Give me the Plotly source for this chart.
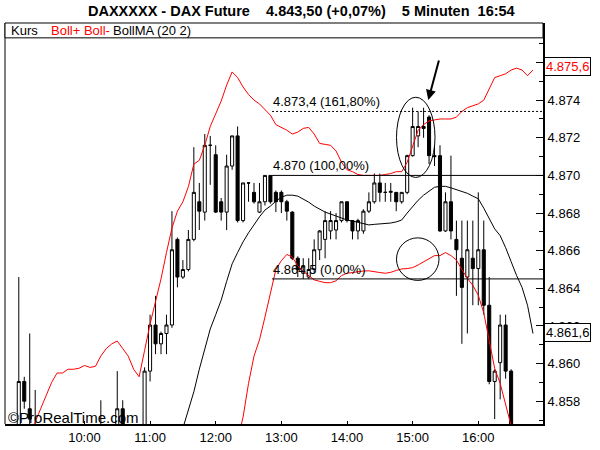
import plotly.graph_objects as go

# ---------------- data ----------------
bars = list(range(95))  # 5-minute bars, 9:00 .. 16:50

opens = [4856.4, 4859.05, 4857.6, 4856.5, 4855.8, 4855.2, 4855.6, 4855.0, 4854.6, 4855.2,
         4855.9, 4855.4, 4855.0, 4855.8, 4855.3, 4855.6, 4856.2, 4855.8, 4856.4, 4857.6,
         4856.3, 4855.6, 4856.0, 4855.5, 4859.6, 4862.05, 4861.05, 4861.6, 4862.05, 4866.6,
         4864.6, 4865.0, 4866.6, 4868.6, 4868.05, 4871.6, 4871.1, 4868.6, 4868.05, 4870.5,
         4872.1, 4867.6, 4869.6, 4869.1, 4868.05, 4868.6, 4870.0, 4869.1, 4869.1, 4868.6,
         4868.05, 4865.6, 4864.8, 4864.6, 4865.0, 4866.05, 4866.6, 4867.05, 4867.1, 4867.6,
         4868.6, 4867.6, 4867.05, 4867.05, 4868.1, 4868.6, 4869.6, 4869.1, 4869.1, 4869.1,
         4868.6, 4869.1, 4871.05, 4872.1, 4872.6, 4873.1, 4871.05, 4871.05, 4867.05, 4868.6,
         4866.6, 4865.6, 4864.6, 4865.6, 4865.05, 4866.05, 4863.1, 4859.05, 4860.05, 4862.05,
         4859.6, 4855.0, 4850.0, 4847.0, 4845.5]
highs = [4864.6, 4859.3, 4861.6, 4858.6, 4856.5, 4856.2, 4856.4, 4855.9, 4855.6, 4856.3,
         4856.4, 4856.0, 4856.2, 4856.5, 4856.0, 4858.05, 4856.7, 4856.6, 4859.6, 4858.05,
         4856.7, 4856.4, 4856.6, 4859.8, 4862.6, 4863.6, 4861.7, 4862.6, 4868.1, 4866.7,
         4865.5, 4867.1, 4871.5, 4869.6, 4872.2, 4872.1, 4871.6, 4868.8, 4871.1, 4872.1,
         4872.6, 4869.6, 4869.6, 4869.6, 4869.6, 4870.0, 4870.0, 4869.2, 4869.2, 4868.7,
         4868.1, 4865.7, 4865.6, 4865.6, 4866.6, 4867.1, 4868.1, 4868.1, 4868.0, 4868.6,
         4868.6, 4867.6, 4867.7, 4868.2, 4869.1, 4870.1, 4870.1, 4869.6, 4869.6, 4869.1,
         4869.1, 4871.1, 4873.6, 4873.4, 4873.6, 4873.2, 4871.6, 4871.6, 4869.1, 4871.05,
         4867.6, 4867.6, 4867.6, 4867.6, 4869.1, 4867.6, 4864.6, 4859.7, 4862.6, 4862.6,
         4859.7, 4855.5, 4851.5, 4849.0, 4847.0]
lows = [4856.0, 4857.6, 4856.4, 4855.2, 4854.6, 4854.2, 4854.8, 4854.0, 4853.8, 4854.8,
        4855.0, 4854.6, 4854.6, 4855.0, 4854.8, 4855.0, 4855.4, 4855.1, 4856.0, 4855.9,
        4855.2, 4854.9, 4855.0, 4855.3, 4859.05, 4860.5, 4860.5, 4860.5, 4861.9, 4864.05,
        4864.5, 4864.9, 4866.5, 4867.1, 4867.6, 4869.5, 4868.0, 4867.6, 4867.1, 4870.3,
        4867.5, 4867.5, 4868.6, 4868.5, 4868.0, 4868.4, 4868.5, 4868.05, 4868.0, 4867.6,
        4865.5, 4864.6, 4864.5, 4864.5, 4864.8, 4865.5, 4865.6, 4866.6, 4866.6, 4867.5,
        4867.5, 4866.6, 4866.6, 4866.9, 4868.0, 4868.5, 4868.6, 4868.6, 4868.6, 4868.1,
        4868.5, 4869.0, 4871.0, 4871.5, 4872.0, 4870.6, 4870.5, 4867.0, 4867.0, 4866.6,
        4863.6, 4861.05, 4861.6, 4863.1, 4863.1, 4862.6, 4858.9, 4857.05, 4858.1, 4859.2,
        4854.5, 4849.0, 4846.0, 4844.0, 4842.5]
closes = [4859.05, 4858.0, 4857.05, 4855.8, 4855.2, 4855.6, 4855.0, 4854.6, 4855.2, 4855.9,
          4855.4, 4855.0, 4855.8, 4855.3, 4855.6, 4856.2, 4855.8, 4856.4, 4857.6, 4856.3,
          4855.6, 4856.0, 4855.5, 4859.6, 4862.05, 4861.05, 4861.6, 4862.05, 4866.05, 4864.6,
          4865.0, 4866.6, 4869.1, 4868.1, 4871.6, 4871.6, 4868.05, 4868.05, 4870.5, 4872.1,
          4867.6, 4869.6, 4869.6, 4868.6, 4868.6, 4870.0, 4868.6, 4868.6, 4868.6, 4868.1,
          4865.6, 4865.0, 4865.2, 4865.0, 4866.05, 4867.05, 4867.6, 4867.6, 4867.6, 4868.6,
          4867.6, 4867.05, 4867.6, 4868.1, 4868.6, 4869.6, 4869.1, 4869.1, 4869.15, 4868.6,
          4869.1, 4871.05, 4872.6, 4872.6, 4872.5, 4871.05, 4871.0, 4867.05, 4868.6, 4867.05,
          4866.05, 4864.05, 4866.05, 4865.05, 4866.05, 4863.1, 4859.05, 4859.6, 4862.05, 4859.6,
          4855.0, 4850.0, 4847.0, 4845.5, 4843.5]

boll_upper = [4852.0, 4853.6, 4855.4, 4856.9, 4857.6, 4858.3, 4859.0, 4859.5, 4859.5, 4859.7,
              4859.7, 4859.75, 4859.9, 4859.8, 4859.85, 4860.4, 4860.8, 4861.05, 4861.2, 4860.8,
              4860.4, 4859.7, 4859.3, 4860.7, 4862.1, 4863.3, 4864.5, 4865.9, 4867.2, 4868.1,
              4868.6, 4869.4, 4870.6, 4870.8, 4871.6, 4872.6, 4873.3, 4873.95, 4874.8, 4875.5,
              4875.2, 4874.7, 4874.3, 4874.0, 4873.8, 4873.5, 4873.2, 4872.7, 4872.55, 4872.4,
              4872.2, 4872.3, 4872.5, 4872.55, 4872.2, 4871.7, 4871.65, 4871.6, 4871.3, 4870.7,
              4870.3, 4870.2, 4870.05, 4870.0, 4870.0, 4870.0, 4870.0, 4870.05, 4870.1, 4870.2,
              4870.2, 4870.7, 4871.6, 4872.4, 4872.7, 4872.9, 4872.95, 4873.0, 4873.0, 4873.0,
              4873.1, 4873.4, 4873.6, 4873.7, 4873.8, 4874.0, 4874.6, 4875.2, 4875.3, 4875.4,
              4875.6, 4875.7, 4875.6, 4875.3, 4875.6]
boll_lower = [None] * 39 + [
              4854.0, 4855.9, 4857.16, 4858.95, 4860.4, 4861.26, 4862.47, 4863.74, 4865.0, 4865.47,
              4865.8, 4865.66, 4865.2, 4864.9, 4864.66, 4864.45, 4864.37, 4864.3, 4864.3, 4864.4,
              4864.68, 4864.8, 4864.84, 4864.9, 4864.92, 4864.93, 4864.9, 4864.84, 4864.8, 4864.85,
              4864.95, 4865.03, 4865.05, 4865.1, 4865.24, 4865.4, 4865.58, 4865.74, 4865.74, 4865.9,
              4865.74, 4865.5, 4865.0, 4864.53, 4864.16, 4863.63, 4862.7, 4861.2, 4859.74, 4858.95,
              4857.9, 4856.7, 4854.0, 4851.0, 4848.0, 4845.0]
boll_ma = [None] * 29 + [
           4855.6, 4856.6, 4857.6, 4858.5, 4859.7, 4860.7, 4861.84, 4862.6, 4863.37, 4864.37,
           4865.3, 4865.9, 4866.47, 4866.95, 4867.4, 4867.8, 4868.16, 4868.37, 4868.63, 4868.84,
           4868.95, 4868.95, 4868.9, 4868.74, 4868.58, 4868.37, 4868.2, 4868.05, 4867.95, 4867.84,
           4867.74, 4867.63, 4867.58, 4867.5, 4867.42, 4867.37, 4867.4, 4867.42, 4867.45, 4867.47,
           4867.53, 4867.63, 4868.0, 4868.37, 4868.68, 4868.95, 4869.18, 4869.37, 4869.42, 4869.42,
           4869.34, 4869.24, 4869.13, 4869.05, 4868.9, 4868.76, 4868.26, 4867.68, 4867.16, 4866.8,
           4866.16, 4865.42, 4864.68, 4864.05, 4863.1, 4861.6]

hour_bars = [12, 24, 36, 48, 60, 72, 84]
hour_labels = ["10:00", "11:00", "12:00", "13:00", "14:00", "15:00", "16:00"]
price_ticks = [4858, 4860, 4862, 4864, 4866, 4868, 4870, 4872, 4874, 4876]
price_labels = ["4.858", "4.860", "4.862", "4.864", "4.866", "4.868", "4.870", "4.872", "4.874", "4.876"]

fib_start_bar = 46.3
fib_levels = [4873.4, 4870.0, 4864.5]
fib_texts = ["4.873,4 (161,80%)", "4.870 (100,00%)", "4.864,5 (0,00%)"]
fib_dash = ["2px,2px", "solid", "solid"]

last_upper_text = "4.875,6"
last_ma_text = "4.861,6"

# ---------------- layout geometry ----------------
W, H = 600, 450
PL, PR, PT, PB = 5, 543, 23, 428
XMIN, XMAX = -2.52, 95.83
YMIN, YMAX = 4856.79, 4878.1
FONT = "Liberation Sans, Arial, sans-serif"


def fx(p):
    return (p - PL) / (PR - PL)


def fy(p):
    return (PB - p) / (PB - PT)


fig = go.Figure()
fig.add_trace(go.Candlestick(
    x=bars, open=opens, high=highs, low=lows, close=closes,
    increasing=dict(line=dict(color="black", width=1), fillcolor="white"),
    decreasing=dict(line=dict(color="black", width=1), fillcolor="black"),
    whiskerwidth=0, showlegend=False, hoverinfo="skip"))
fig.add_trace(go.Scatter(x=bars, y=boll_upper, mode="lines",
                         line=dict(color="#ff0000", width=1), showlegend=False))
fig.add_trace(go.Scatter(x=bars, y=boll_lower, mode="lines",
                         line=dict(color="#ff0000", width=1), showlegend=False))
fig.add_trace(go.Scatter(x=bars, y=boll_ma, mode="lines",
                         line=dict(color="black", width=1), showlegend=False))

shapes = []
shapes.append(dict(type="line", xref="paper", yref="paper", x0=0, x1=0, y0=0, y1=1,
                   line=dict(color="black", width=1)))
shapes.append(dict(type="rect", xref="paper", yref="paper", x0=0, x1=1, y0=fy(38), y1=1,
                   line=dict(color="black", width=1), fillcolor="white"))
for lvl, d in zip(fib_levels, fib_dash):
    shapes.append(dict(type="line", xref="x", yref="y", x0=fib_start_bar, x1=XMAX,
                       y0=lvl, y1=lvl, line=dict(color="black", width=1, dash=d)))
shapes.append(dict(type="circle", xref="paper", yref="paper", x0=fx(396.5), x1=fx(435),
                   y0=fy(179), y1=fy(98), line=dict(color="black", width=1)))
shapes.append(dict(type="circle", xref="paper", yref="paper", x0=fx(396.5), x1=fx(439),
                   y0=fy(283), y1=fy(240), line=dict(color="black", width=1)))

ann = []
ann.append(dict(xref="paper", yref="paper", x=fx(301), y=fy(10.5), xanchor="center", yanchor="middle",
                text="<b>DAXXXXX - DAX Future\u00a0\u00a0\u00a0\u00a04.843,50 (+0,07%)\u00a0\u00a0\u00a0\u00a05 Minuten\u00a0\u00a016:54</b>",
                showarrow=False, font=dict(family=FONT, size=14.5, color="black")))
ann.append(dict(xref="paper", yref="paper", x=fx(9), y=fy(30.5), xanchor="left", yanchor="middle",
                text="Kurs", showarrow=False, font=dict(family=FONT, size=13, color="black")))
ann.append(dict(xref="paper", yref="paper", x=fx(49), y=fy(30.5), xanchor="left", yanchor="middle",
                text="Boll+ Boll-", showarrow=False, font=dict(family=FONT, size=13, color="#ff0000")))
ann.append(dict(xref="paper", yref="paper", x=fx(111), y=fy(30.5), xanchor="left", yanchor="middle",
                text="BollMA (20 2)", showarrow=False, font=dict(family=FONT, size=13, color="black")))
for lvl, t in zip(fib_levels, fib_texts):
    ann.append(dict(xref="x", yref="y", x=fib_start_bar, y=lvl, xanchor="left", yanchor="bottom",
                    text=t, showarrow=False, borderpad=0, yshift=1,
                    font=dict(family=FONT, size=13, color="black")))
ann.append(dict(xref="paper", yref="paper", x=fx(428.3), y=fy(100.7), text="", showarrow=True,
                ax=11, ay=-41, arrowhead=2, arrowsize=1, arrowwidth=2, arrowcolor="black", standoff=0))
ann.append(dict(xref="paper", yref="paper", x=fx(544), y=fy(66.5), xanchor="left", yanchor="middle",
                text=last_upper_text, showarrow=False, bgcolor="white", bordercolor="black",
                borderwidth=1, borderpad=1, font=dict(family=FONT, size=13, color="#ff0000")))
ann.append(dict(xref="paper", yref="paper", x=fx(544), y=fy(335.5), xanchor="left", yanchor="middle",
                text=last_ma_text, showarrow=False, bgcolor="white", bordercolor="black",
                borderwidth=1, borderpad=1, font=dict(family=FONT, size=13, color="black")))
ann.append(dict(xref="paper", yref="paper", x=fx(6), y=fy(421), xanchor="left", yanchor="middle",
                text="\u00a9ProRealTime.com", showarrow=False,
                font=dict(family=FONT, size=15, color="black")))

fig.update_layout(
    width=W, height=H,
    margin=dict(l=PL, r=W - PR, t=PT, b=H - PB, pad=0),
    paper_bgcolor="white", plot_bgcolor="white",
    boxgap=0.2,
    showlegend=False,
    font=dict(family=FONT, size=13, color="black"),
    xaxis=dict(range=[XMIN, XMAX], tickmode="array", tickvals=hour_bars, ticktext=hour_labels,
               ticks="inside", ticklen=3, tickcolor="black", showline=True, linewidth=2,
               linecolor="black", showgrid=False, zeroline=False, rangeslider=dict(visible=False),
               tickfont=dict(family=FONT, size=13, color="black")),
    yaxis=dict(range=[YMIN, YMAX], side="right", tickmode="array", tickvals=price_ticks,
               ticktext=price_labels, ticks="inside", ticklen=7, tickcolor="black",
               minor=dict(tickmode="linear", tick0=4857, dtick=1, ticks="inside", ticklen=4,
                          tickcolor="black", showgrid=False),
               showline=True, linewidth=2, linecolor="black", showgrid=False, zeroline=False,
               tickfont=dict(family=FONT, size=13, color="black")),
    shapes=shapes, annotations=ann,
)

fig.write_html("out.html", config={"displayModeBar": False},
               post_script="document.body.style.margin='0';document.body.style.overflow='hidden';")
